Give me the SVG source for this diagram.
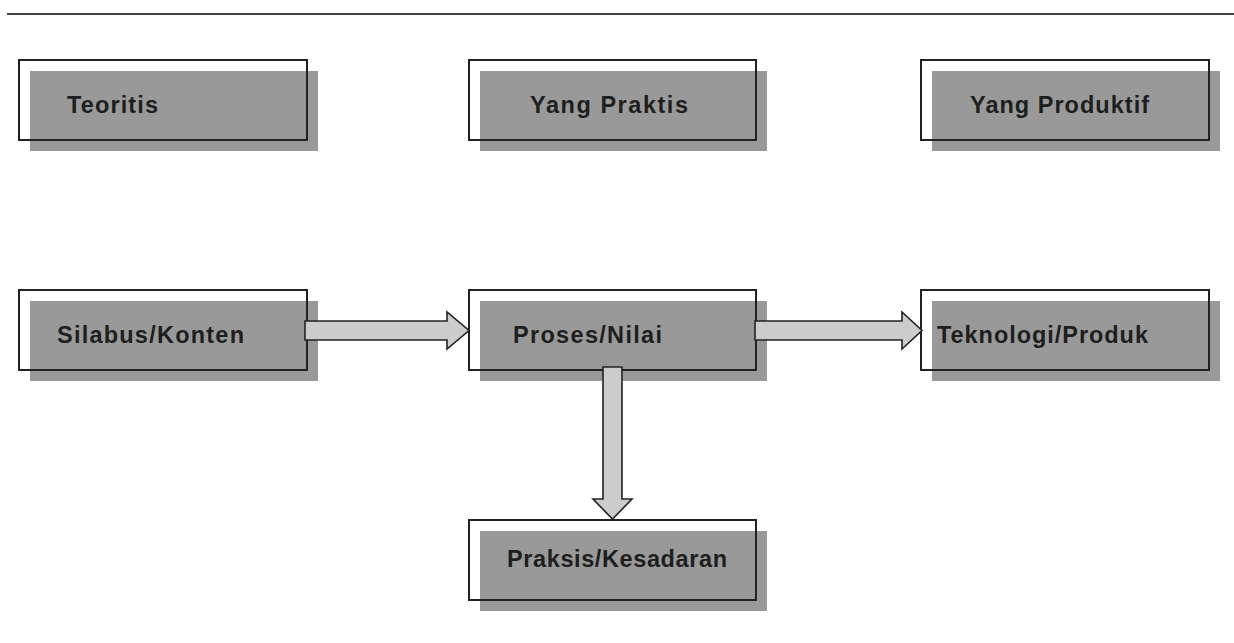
<svg xmlns="http://www.w3.org/2000/svg" width="1234" height="643" viewBox="0 0 1234 643">
<style>
.sh{fill:#999999;}
.ol{fill:none;stroke:#222;stroke-width:2;}
.t{font-family:"Liberation Sans",Arial,sans-serif;font-weight:bold;font-size:23.5px;fill:#1e1e1e;}
.ar{fill:#cccccc;stroke:#222;stroke-width:1.6;stroke-linejoin:miter;}
</style>
<rect width="1234" height="643" fill="#fff"/>
<line x1="7" y1="14" x2="1234" y2="14" stroke="#444" stroke-width="2.2"/>
<g id="teoritis">
<rect class="sh" x="30" y="71" width="288" height="80"/>
<rect class="ol" x="19" y="60" width="288" height="80"/>
<text class="t" x="67" y="113" textLength="91" lengthAdjust="spacing">Teoritis</text>
</g>
<g id="yang-praktis">
<rect class="sh" x="480" y="71" width="287" height="80"/>
<rect class="ol" x="469" y="60" width="287" height="80"/>
<text class="t" x="530" y="113" textLength="158" lengthAdjust="spacing">Yang Praktis</text>
</g>
<g id="yang-produktif">
<rect class="sh" x="932" y="71" width="288" height="80"/>
<rect class="ol" x="921" y="60" width="288" height="80"/>
<text class="t" x="970" y="113" textLength="179" lengthAdjust="spacing">Yang Produktif</text>
</g>
<g id="silabus">
<rect class="sh" x="30" y="301" width="288" height="80"/>
<rect class="ol" x="19" y="290" width="288" height="80"/>
<text class="t" x="57" y="343" textLength="187" lengthAdjust="spacing">Silabus/Konten</text>
</g>
<g id="proses">
<rect class="sh" x="480" y="301" width="287" height="80"/>
<rect class="ol" x="469" y="290" width="287" height="80"/>
<text class="t" x="513" y="343" textLength="149" lengthAdjust="spacing">Proses/Nilai</text>
</g>
<g id="teknologi">
<rect class="sh" x="932" y="301" width="288" height="80"/>
<rect class="ol" x="921" y="290" width="288" height="80"/>
<text class="t" x="937" y="343" textLength="211" lengthAdjust="spacing">Teknologi/Produk</text>
</g>
<g id="praksis">
<rect class="sh" x="480" y="531" width="287" height="80"/>
<rect class="ol" x="469" y="520" width="287" height="80"/>
<text class="t" x="507" y="567" textLength="220" lengthAdjust="spacing">Praksis/Kesadaran</text>
</g>
<g id="connectors">
<polygon class="ar" points="305,321 447,321 447,312 469,330.5 447,349 447,340 305,340"/>
<polygon class="ar" points="755,321 902,321 902,312 922,330.5 902,349 902,340 755,340"/>
<polygon class="ar" points="603,367 622,367 622,499 632,499 612.5,519 593,499 603,499"/>
</g>
</svg>
